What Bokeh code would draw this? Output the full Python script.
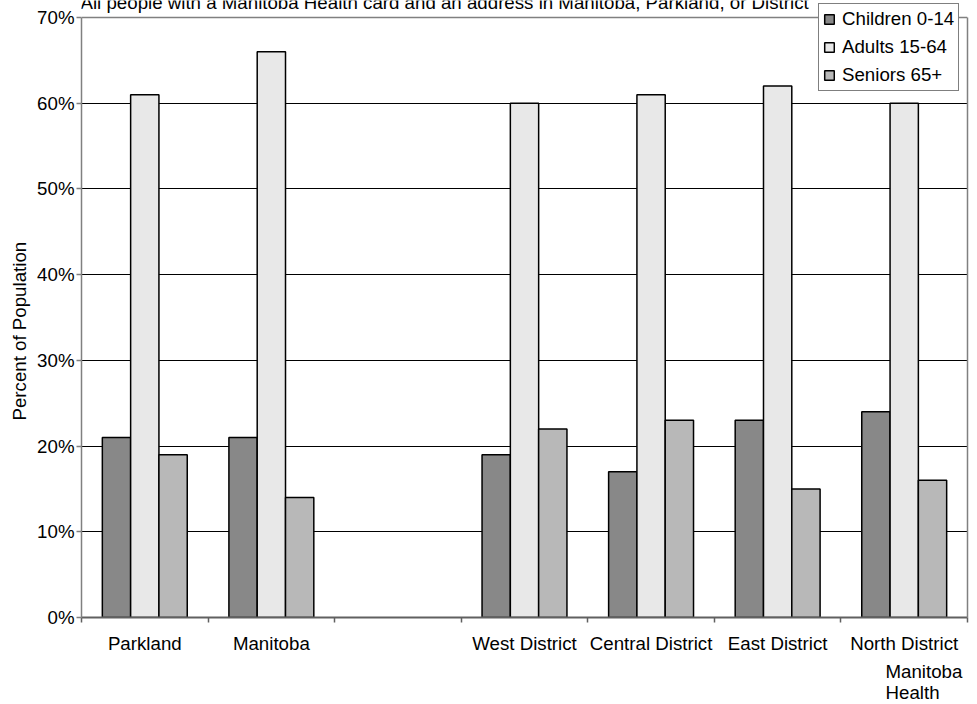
from bokeh.plotting import figure
from bokeh.models import (Range1d, FixedTicker, PrintfTickFormatter, Legend,
                          LegendItem, ColumnDataSource, Label, Title, Grid,
                          LinearAxis)
from bokeh.transform import dodge
from bokeh.embed import file_html
from bokeh.resources import INLINE

# ---- data ----
categories = ["Parkland", "Manitoba", "", "West District", "Central District",
              "East District", "North District"]
children = [21, 21, None, 19, 17, 23, 24]
adults = [61, 66, None, 60, 61, 62, 60]
seniors = [19, 14, None, 22, 23, 15, 16]
series_labels = ["Children 0-14", "Adults 15-64", "Seniors 65+"]
y_ticks = [0, 10, 20, 30, 40, 50, 60, 70]
title_text = "All people with a Manitoba Health card and an address in Manitoba, Parkland, or District"
y_label = "Percent of Population"
source_text = "Manitoba\nHealth"

FONT = "Liberation Sans"
FS = "18.7px"
colors = ["#888888", "#E8E8E8", "#B8B8B8"]
GRAY = "#808080"

Y_MAX = 70
PX_PER_UNIT = 600 / 70          # 600 px for 0..70 %
TOP_PX = 17                     # room above 70 % for title / legend

nan = float("nan")
xs = [i + 0.5 for i in range(len(categories))]
src = ColumnDataSource(dict(
    x=xs,
    children=[nan if v is None else v for v in children],
    adults=[nan if v is None else v for v in adults],
    seniors=[nan if v is None else v for v in seniors],
))

p = figure(width=975, height=704, x_range=Range1d(0, len(categories)),
           y_range=Range1d(0, Y_MAX + TOP_PX / PX_PER_UNIT),
           output_backend="svg", toolbar_location=None,
           min_border_left=81, min_border_right=8, min_border_top=0,
           min_border_bottom=87)
p.background_fill_color = "white"
p.border_fill_color = "white"
p.outline_line_color = None

bw = 0.2236
renderers = []
for key, off, col in zip(["children", "adults", "seniors"], [-bw, 0, bw], colors):
    r = p.vbar(x=dodge("x", off, range=p.x_range), top=key, width=bw, bottom=0,
               source=src, fill_color=col, line_color="black", line_width=1.5)
    renderers.append(r)

# grid lines and the top border of the plot area
p.xgrid.visible = False
p.ygrid.ticker = FixedTicker(ticks=y_ticks[1:-1])
p.ygrid.grid_line_color = "black"
p.ygrid.grid_line_width = 1
p.ygrid.level = "underlay"
p.add_layout(Grid(dimension=1, ticker=FixedTicker(ticks=[Y_MAX]),
                  grid_line_color=GRAY, grid_line_width=1.5))

# y axis
ya = p.yaxis[0]
ya.bounds = (0, Y_MAX)
ya.ticker = FixedTicker(ticks=y_ticks)
ya.formatter = PrintfTickFormatter(format="%d%%")
ya.axis_line_color = GRAY
ya.axis_line_width = 1.5
ya.major_tick_line_color = GRAY
ya.major_tick_line_width = 1.5
ya.major_tick_out = 5
ya.major_tick_in = 0
ya.minor_tick_line_color = None
ya.major_label_standoff = 2
ya.major_label_text_font = FONT
ya.major_label_text_font_size = FS
ya.major_label_text_color = "black"

# y axis title (as a side title so it can be placed along the axis)
p.add_layout(Title(text=y_label, align="left", offset=197, vertical_align="bottom",
                   standoff=10, text_font=FONT, text_font_size=FS,
                   text_font_style="normal", text_color="black"), "left")

# right border of the plot area
p.add_layout(LinearAxis(bounds=(0, Y_MAX), ticker=FixedTicker(ticks=[]),
                        axis_line_color=GRAY, axis_line_width=1.5,
                        major_tick_line_color=None, minor_tick_line_color=None,
                        major_label_standoff=0), "right")

# x axis: labels at centers, ticks between categories
xa = p.xaxis[0]
xa.ticker = FixedTicker(ticks=xs, minor_ticks=list(range(len(categories) + 1)))
xa.major_label_overrides = {x: c for x, c in zip(xs, categories)}
xa.axis_line_color = "#606060"
xa.axis_line_width = 2
xa.major_tick_line_color = None
xa.major_tick_out = 0
xa.major_tick_in = 0
xa.minor_tick_line_color = "#606060"
xa.minor_tick_line_width = 1.5
xa.minor_tick_out = 5
xa.minor_tick_in = 0
xa.major_label_standoff = 10
xa.major_label_text_font = FONT
xa.major_label_text_font_size = FS
xa.major_label_text_color = "black"

# source credit below the axis
p.add_layout(Title(text=source_text, align="left", offset=804, vertical_align="bottom",
                   standoff=4, text_font=FONT, text_font_size=FS,
                   text_font_style="normal", text_color="black"), "below")

# chart title, cut by the top edge as in the reference
p.add_layout(Label(x=0, y=Y_MAX + 15 / PX_PER_UNIT, x_offset=-1, text=title_text,
                   text_font=FONT, text_font_size=FS, text_color="black",
                   text_align="left", text_baseline="alphabetic"))

legend = Legend(items=[LegendItem(label=l, renderers=[r])
                       for l, r in zip(series_labels, renderers)],
                location=(737, 526), orientation="vertical",
                border_line_color="black", border_line_width=1,
                background_fill_color="white", background_fill_alpha=1,
                padding=4, margin=0, spacing=6, label_height=22,
                glyph_height=12, glyph_width=12, label_standoff=7,
                label_text_font=FONT, label_text_font_size=FS,
                label_text_color="black")
p.add_layout(legend)

open("out.html", "w").write(file_html(p, INLINE))
